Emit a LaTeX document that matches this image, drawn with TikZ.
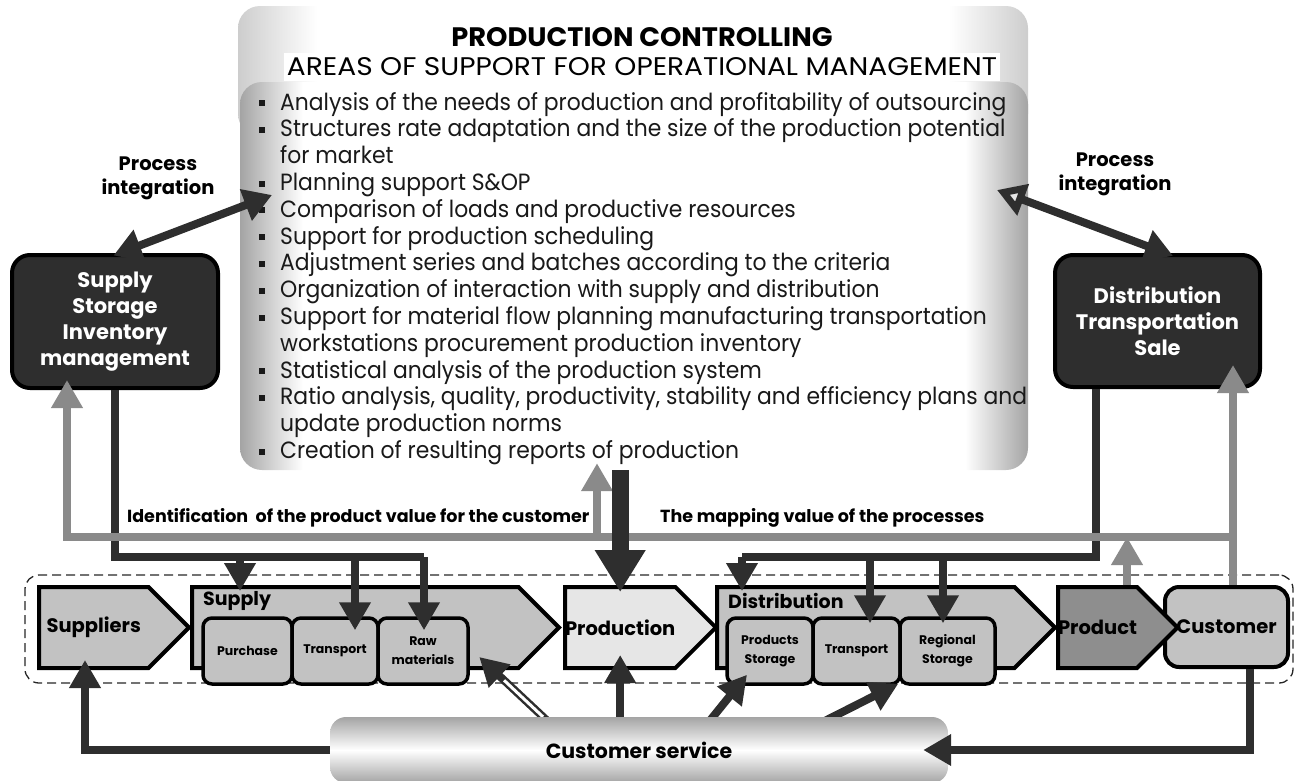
\documentclass[tikz,border=0pt]{standalone}
\usepackage{fontspec}
\setmainfont{Poppins}
\newfontfamily\listfont[FakeStretch=0.93]{Poppins}
\usetikzlibrary{arrows.meta}
\usetikzlibrary{positioning}
\usetikzlibrary{shapes.symbols}
\definecolor{mdark}{HTML}{2E2E2E}
\definecolor{mgray}{HTML}{8A8A8A}
\definecolor{mbox}{HTML}{C2C2C2}
\definecolor{mlight}{HTML}{E6E6E6}
\definecolor{mprod}{HTML}{8E8E8E}
\definecolor{mshade}{HTML}{A4A4A4}
\definecolor{mtop}{HTML}{CDCDCD}
\pgfdeclarehorizontalshading{panelshade}{100bp}{color(0bp)=(mshade); color(25bp)=(mshade); color(29bp)=(white); color(71bp)=(white); color(75bp)=(mshade); color(100bp)=(mshade)}
\pgfdeclarehorizontalshading{topshade}{100bp}{color(0bp)=(mtop); color(25bp)=(mtop); color(30bp)=(white); color(70bp)=(white); color(75bp)=(mtop); color(100bp)=(mtop)}
\tikzset{
  sig/.style = {shape=signal, signal to=east, signal pointer angle=90, draw=black, line width=4pt, fill=mbox, inner sep=0pt, anchor=west, font=\fontsize{19.5}{20}\selectfont\bfseries},
  grplbl/.style = {inner sep=0pt, font=\fontsize{19}{20}\selectfont\bfseries},
  subbox/.style = {draw=black, line width=3.5pt, fill=mbox, rounded corners=9pt, minimum height=66pt, inner sep=0pt, align=center, font=\fontsize{12.5}{19}\selectfont\bfseries},
  custbox/.style = {draw=black, line width=4pt, fill=mbox, rounded corners=14pt, inner sep=0pt, font=\fontsize{19.5}{20}\selectfont\bfseries},
  darkbox/.style = {draw=black, line width=4pt, fill=mdark, rounded corners=18pt, text=white, align=center, font=\fontsize{21}{26}\selectfont\bfseries},
  pint/.style = {align=center, font=\fontsize{19.5}{24}\selectfont\bfseries},
  flowlbl/.style = {inner sep=0pt, font=\fontsize{17.5}{18}\selectfont\bfseries},
  dashbox/.style = {draw=black!85, line width=1.3pt, dash pattern=on 9pt off 5pt, rounded corners=14pt},
  csbar/.style = {top color=mshade, bottom color=mshade, middle color=white, rounded corners=16pt, font=\fontsize{20.5}{21}\selectfont\bfseries},
  panel/.style = {shading=panelshade, rounded corners=22pt},
  toppanel/.style = {shading=topshade, rounded corners=22pt},
  listtext/.style = {align=left, inner sep=0pt, text=black!90, font=\listfont\fontsize{23.5}{26.8}\selectfont},
  dline/.style = {draw=mdark, line width=8pt},
  darr/.style = {dline, -{Triangle[length=28pt,width=30pt]}},
  garr/.style = {draw=mgray, line width=8pt, -{Triangle[length=28pt,width=30pt]}},
  bigarr/.style = {draw=mdark, line width=17pt, -{Triangle[length=42pt,width=48pt]}},
  dblarr/.style = {draw=mdark, line width=8pt, {Triangle[length=28pt,width=32pt]}-{Triangle[length=28pt,width=32pt]}}
}
\newcommand{\blt}{\makebox[21pt][l]{\rule[4pt]{5.5pt}{6pt}}}
\newcommand{\cnt}{\hspace*{21pt}}

\begin{document}
\begin{tikzpicture}[x=1pt, y=-1pt]
  \useasboundingbox (0,0) rectangle (1302,780);

  % production controlling panel
  \node[toppanel, minimum width=790pt, minimum height=130pt] (head) at (633,71) {};
  \node[panel, minimum width=788pt, minimum height=388pt] (ctrl) at (634,276) {};
  \node[inner sep=0pt, font=\bfseries] (title) at (642,37) {\resizebox{381pt}{19pt}{PRODUCTION CONTROLLING}};
  \node[fill=white, inner xsep=3pt, inner ysep=5pt] (subtitle) at (642,67) {\resizebox{710pt}{18pt}{AREAS OF SUPPORT FOR OPERATIONAL MANAGEMENT}};
  \node[listtext, anchor=north west] (areas) at (259,92) {\blt Analysis of the needs of production and profitability of outsourcing\\
    \blt Structures rate adaptation and the size of the production potential\\
    \cnt for market\\
    \blt Planning support S\&OP\\
    \blt Comparison of loads and productive resources\\
    \blt Support for production scheduling\\
    \blt Adjustment series and batches according to the criteria\\
    \blt Organization of interaction with supply and distribution\\
    \blt Support for material flow planning manufacturing transportation\\
    \cnt workstations procurement production inventory\\
    \blt Statistical analysis of the production system\\
    \blt Ratio analysis, quality, productivity, stability and efficiency plans and\\
    \cnt update production norms\\
    \blt Creation of resulting reports of production};

  % side boxes
  \node[darkbox, minimum width=206pt, minimum height=133pt] (lbox) at (115,321.5) {Supply\\Storage\\Inventory\\management};
  \node[darkbox, minimum width=205pt, minimum height=132pt] (rbox) at (1157.5,321) {Distribution\\Transportation\\Sale};
  \node[pint] (lpint) at (158,178) {Process\\integration};
  \node[pint] (rpint) at (1115,174) {Process\\integration};
  \node[flowlbl, anchor=west] (idlbl) at (127,518) {Identification \ of the product value for the customer};
  \node[flowlbl, anchor=west] (maplbl) at (660,518) {The mapping value of the processes};

  % value chain
  \node[dashbox, minimum width=1268pt, minimum height=108pt] (row) at (659,629) {};
  \node[sig, minimum width=150pt, minimum height=81pt] (suppliers) at (37,627.5) {Suppliers};
  \node[sig, minimum width=367pt, minimum height=81pt] (supply) at (190,627.5) {};
  \node[grplbl, anchor=west] (supplylbl) at (203,601) {Supply};
  \node[subbox, minimum width=89pt] (purchase) at (247.5,651) {Purchase};
  \node[subbox, minimum width=86pt, right=-3.5pt of purchase] (transp1) {Transport};
  \node[subbox, minimum width=90pt, right=-3.5pt of transp1] (raw) {Raw\\materials};
  \node[sig, fill=mlight, minimum width=147pt, minimum height=81pt] (production) at (563,627.5) {Production};
  \node[sig, minimum width=338pt, minimum height=81pt] (distrib) at (715,627.5) {};
  \node[grplbl, anchor=west] (distlbl) at (728,601) {Distribution};
  \node[subbox, minimum width=86pt] (pstore) at (770,651) {Products\\Storage};
  \node[subbox, minimum width=87pt, right=-3.5pt of pstore] (transp2) {Transport};
  \node[subbox, minimum width=95pt, right=-3.5pt of transp2] (rstore) {Regional\\Storage};
  \node[custbox, minimum width=123pt, minimum height=80pt] (cust) at (1226.5,627) {Customer};
  \node[sig, fill=mprod, minimum width=114pt, minimum height=81pt] (product) at (1056,627.5) {Product};
  \node[minimum width=618pt, minimum height=66pt] (cs) at (639,750) {};

  % junctions
  \coordinate (dla) at (240,557);
  \coordinate (dlb) at (355,557);
  \coordinate (dlc) at (424,557);
  \coordinate (dra) at (742,557);
  \coordinate (drb) at (870,557);
  \coordinate (drc) at (943,557);
  \coordinate (gr) at (1233,537);
  \coordinate (gll) at (67,537);
  \coordinate (gm) at (597,537);
  \coordinate (gp) at (1127,537);
  \coordinate (csl) at (85,750);
  \coordinate (csr) at (1250,750);
  \coordinate (pl) at (272,195);
  \coordinate (pr) at (997,190);

  % dark feeds
  \draw[dline] (lbox.south) |- (dlc);
  \draw[darr, shorten >=-6pt] (dla) -- (dla |- supply.north);
  \draw[darr, shorten >=-14pt] (dlb) -- (dlb |- transp1.north);
  \draw[darr, shorten >=-14pt] (dlc) -- (dlc |- raw.north);
  \draw[dline] ([xshift=-62pt]rbox.south) |- (dra);
  \draw[darr, shorten >=-6pt] (dra) -- (dra |- distrib.north);
  \draw[darr, shorten >=-7pt] (drb) -- (drb |- transp2.north);
  \draw[darr, shorten >=-7pt] (drc) -- (drc |- rstore.north);

  % grey feedback
  \draw[garr, shorten >=-10pt] (gr) -| (gll |- lbox.south);
  \draw[garr, shorten >=-24pt] (gr |- cust.north) -- (gr |- rbox.south);
  \draw[garr, shorten >=-7pt] (gm) -- (gm |- ctrl.south);
  \draw[garr] (gp |- product.north) -- (gp);
  \draw[bigarr, shorten >=-7pt] (ctrl.south -| production.north) -- (production.north);

  % process integration
  \draw[dblarr, shorten <=-7pt] ([xshift=5pt]lbox.north) -- (pl);
  \draw[draw=mdark, line width=8pt, {Triangle[length=28pt,width=32pt,fill=mlight]}-{Triangle[length=28pt,width=32pt]}, shorten >=-8pt] (pr) -- ([xshift=8pt]rbox.north);

  % customer service
  \draw[darr, shorten <=-10pt] ([xshift=-96pt]cs.north) -- ([xshift=124pt,yshift=13pt]supply.south);
  \draw[white, line width=3pt, shorten >=34pt] ([xshift=-96pt]cs.north) -- ([xshift=124pt,yshift=13pt]supply.south);
  \draw[darr, shorten <=-10pt, shorten >=-15pt] (cs.north -| production.south) -- (production.south);
  \draw[darr, shorten <=-10pt] ([xshift=74pt]cs.north) -- ([xshift=-23pt,yshift=11pt]pstore.south);
  \draw[darr, shorten <=-10pt] ([xshift=194pt]cs.north) -- ([yshift=2pt]rstore.south west);
  \draw[darr, shorten >=-10pt] (cs.west) -| (csl |- suppliers.south);
  \node[csbar, minimum width=618pt, minimum height=66pt] (cs) at (639,750) {Customer service};
  \draw[darr, shorten >=-25pt] (csr |- cust.south) |- (cs.east);
\end{tikzpicture}
\end{document}
